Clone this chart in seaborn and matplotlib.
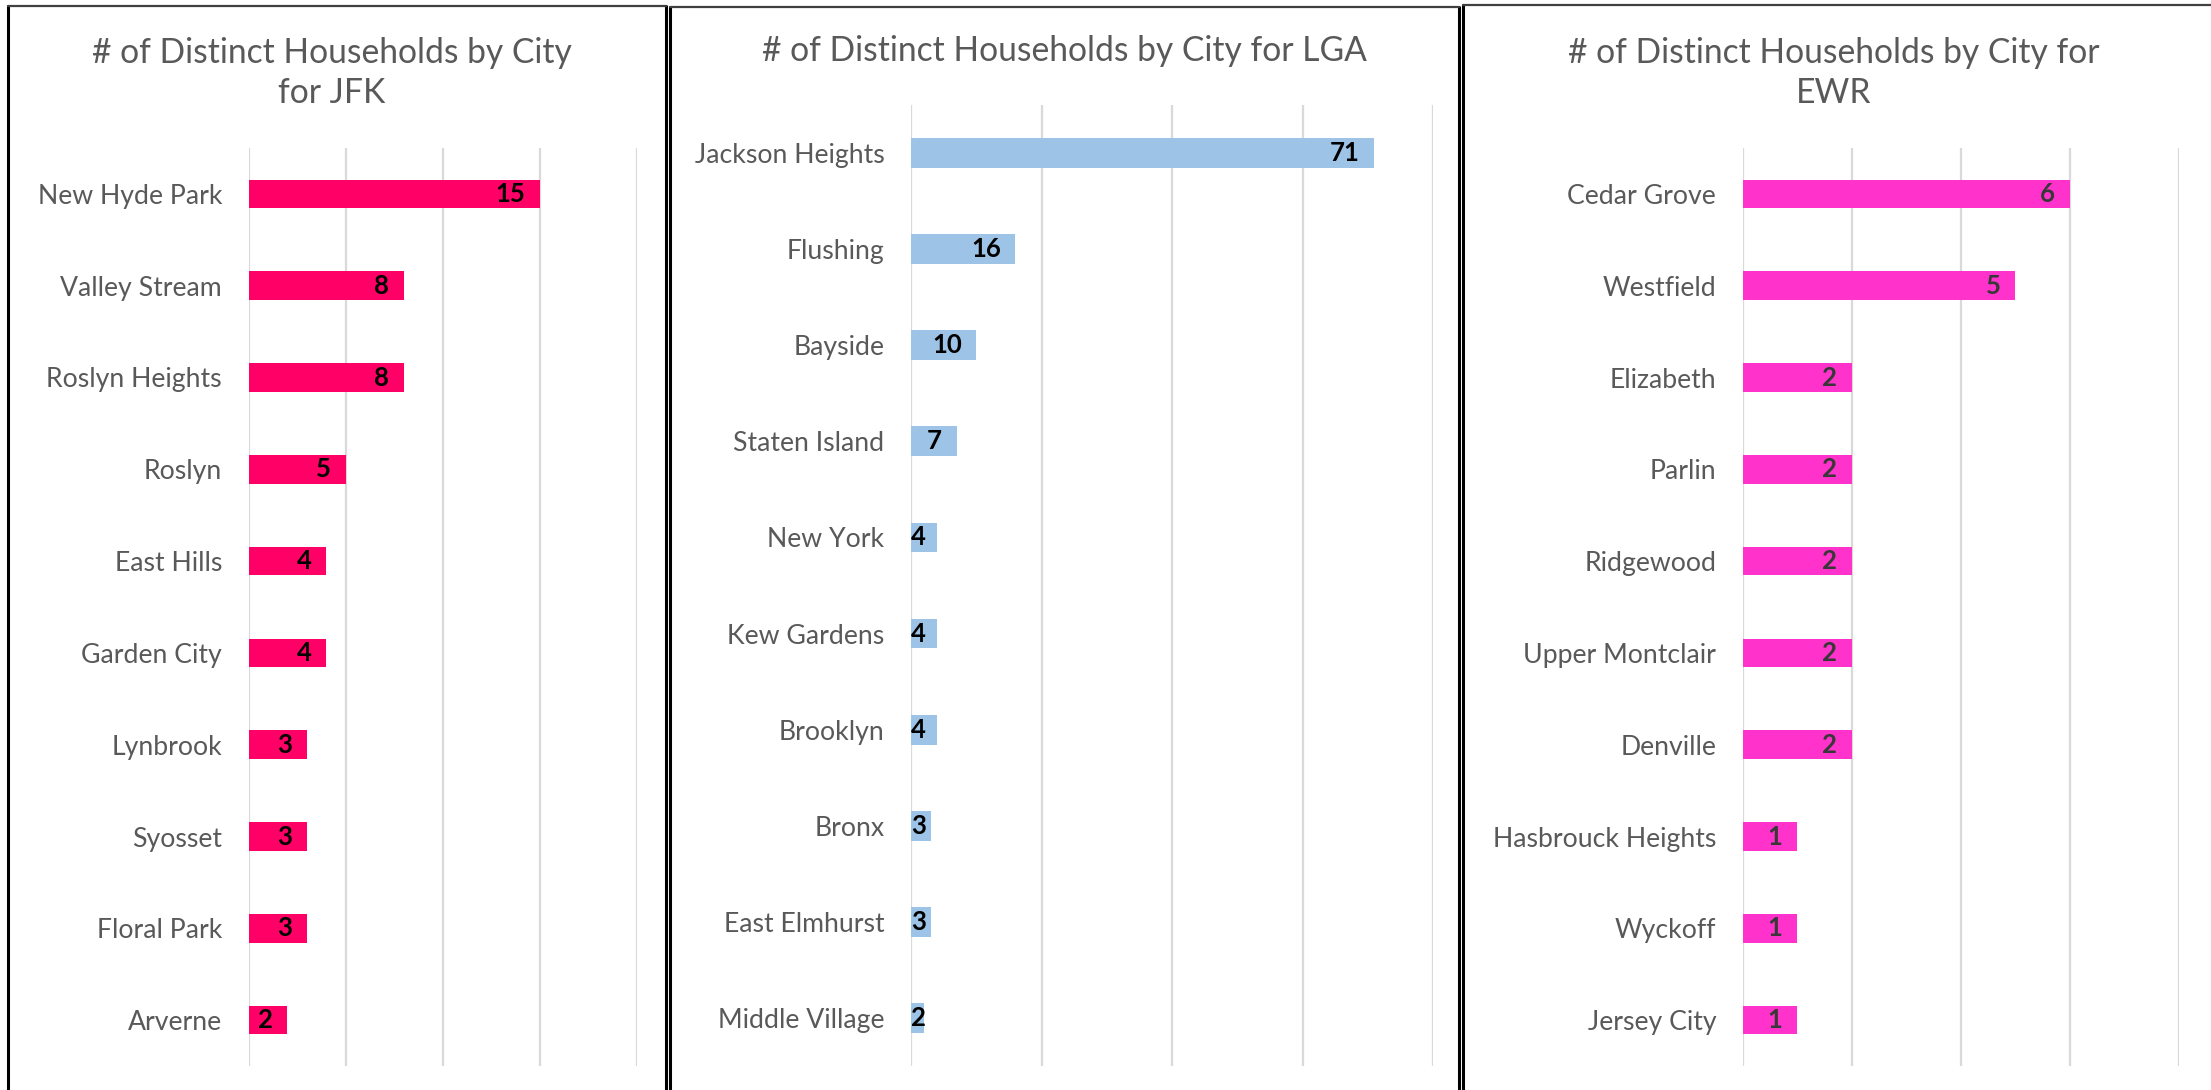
import matplotlib
matplotlib.use("Agg")
import matplotlib.pyplot as plt
import seaborn as sns
import pandas as pd
from matplotlib.lines import Line2D

# ---------------- data ----------------
jfk_cities = ["New Hyde Park", "Valley Stream", "Roslyn Heights", "Roslyn", "East Hills",
              "Garden City", "Lynbrook", "Syosset", "Floral Park", "Arverne"]
jfk_counts = [15, 8, 8, 5, 4, 4, 3, 3, 3, 2]

lga_cities = ["Jackson Heights", "Flushing", "Bayside", "Staten Island", "New York",
              "Kew Gardens", "Brooklyn", "Bronx", "East Elmhurst", "Middle Village"]
lga_counts = [71, 16, 10, 7, 4, 4, 4, 3, 3, 2]

ewr_cities = ["Cedar Grove", "Westfield", "Elizabeth", "Parlin", "Ridgewood",
              "Upper Montclair", "Denville", "Hasbrouck Heights", "Wyckoff", "Jersey City"]
ewr_counts = [6, 5, 2, 2, 2, 2, 2, 1, 1, 1]

titles = ["# of Distinct Households by City\nfor JFK",
          "# of Distinct Households by City for LGA",
          "# of Distinct Households by City for\nEWR"]

# ---------------- style ----------------
sns.set_theme(style="white")
FONT = ["Lato", "DejaVu Sans"]
plt.rcParams["font.family"] = FONT

W, H = 2211, 1090
fig = plt.figure(figsize=(W / 100, H / 100), dpi=100)
fig.patch.set_facecolor("white")

GRID = "#D9D9D9"
TXT = "#595959"

panels = [
    dict(cities=jfk_cities, counts=jfk_counts, color="#FF0066", lab="#000000",
         xmax=20, step=5, rect=(248.5, 636.7, 148, 1066),
         title_xy=(332, 73), border=(8, 666, 6)),
    dict(cities=lga_cities, counts=lga_counts, color="#9DC3E6", lab="#000000",
         xmax=80, step=20, rect=(911, 1433, 105, 1066),
         title_xy=(1064, 51), border=(670, 1459, 7)),
    dict(cities=ewr_cities, counts=ewr_counts, color="#FF33CC", lab="#383838",
         xmax=8, step=2, rect=(1742.6, 2179, 148, 1066),
         title_xy=(1834, 73), border=(1463, 2230, 5)),
]

axes = []
for p, title in zip(panels, titles):
    x0, x1, ytop, ybot = p["rect"]
    ax = fig.add_axes([x0 / W, 1 - ybot / H, (x1 - x0) / W, (ybot - ytop) / H])
    df = pd.DataFrame({"city": p["cities"], "count": p["counts"]})
    sns.barplot(data=df, x="count", y="city", orient="h", color=p["color"],
                width=0.31, saturation=1, ax=ax, edgecolor="none")
    ax.set_xlim(0, p["xmax"])
    ax.set_ylim(len(df) - 0.5, -0.5)
    ax.set_xticks(range(0, p["xmax"] + 1, p["step"]))
    ax.set_xticklabels([])
    ax.tick_params(axis="x", length=0)
    ax.tick_params(axis="y", length=0, pad=19, labelsize=19.2, labelcolor=TXT)
    for lbl in ax.get_yticklabels():
        lbl.set_fontfamily(FONT)
    ax.set_xlabel("")
    ax.set_ylabel("")
    ax.xaxis.grid(True, color=GRID, linewidth=1.6)
    ax.yaxis.grid(False)
    ax.set_axisbelow(True)
    for s in ax.spines.values():
        s.set_visible(False)
    ax.set_facecolor("none")
    # titles
    fig.text(p["title_xy"][0] / W, 1 - p["title_xy"][1] / H, title,
             ha="center", va="center", fontsize=24.2, color=TXT,
             linespacing=1.3, family=FONT)
    # borders
    bx0, bx1, by = p["border"]
    fig.add_artist(Line2D([bx0 / W, bx0 / W], [1 - by / H, 0], color="black",
                          linewidth=2.2, transform=fig.transFigure))
    fig.add_artist(Line2D([bx1 / W, bx1 / W], [1 - by / H, 0], color="black",
                          linewidth=2.2, transform=fig.transFigure))
    fig.add_artist(Line2D([bx0 / W, bx1 / W], [1 - by / H, 1 - by / H], color="#404040",
                          linewidth=1.6, transform=fig.transFigure))
    axes.append((ax, p))

# value labels (inside end, clamped at the axis start)
fig.canvas.draw()
renderer = fig.canvas.get_renderer()
for ax, p in axes:
    for i, v in enumerate(p["counts"]):
        t = ax.annotate(str(v), xy=(v, i), xytext=(-10.5, 0), textcoords="offset points",
                        ha="right", va="center", fontsize=18.5, fontweight="bold",
                        color=p["lab"], family=FONT)
        bb = t.get_window_extent(renderer)
        axis_x0 = ax.transData.transform((0, 0))[0]
        if bb.x0 < axis_x0:
            t.remove()
            ax.annotate(str(v), xy=(0, i), xytext=(0, 0), textcoords="offset points",
                        ha="left", va="center", fontsize=18.5, fontweight="bold",
                        color=p["lab"], family=FONT)

fig.savefig("out.png", dpi=100, facecolor="white")
